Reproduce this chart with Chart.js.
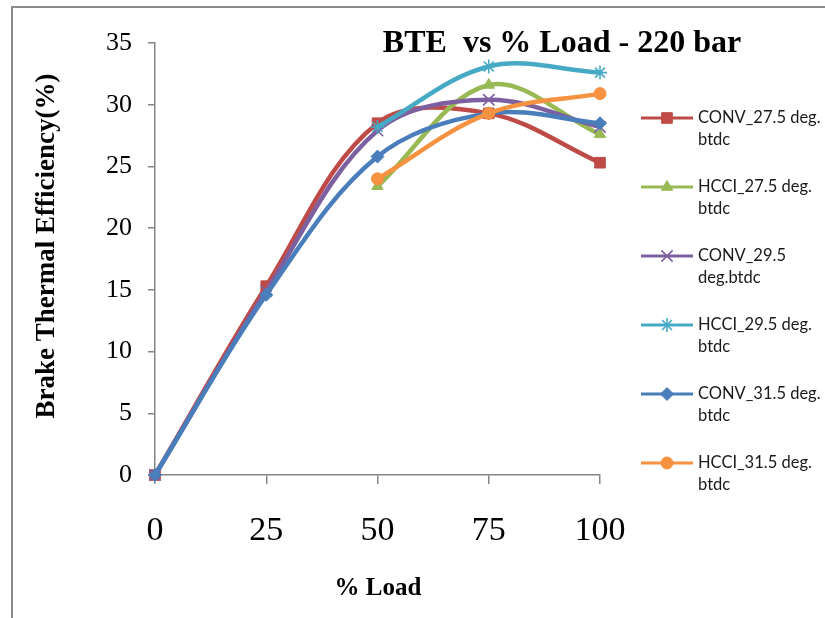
<!DOCTYPE html>
<html>
<head>
<meta charset="utf-8">
<script src="https://cdn.jsdelivr.net/npm/chart.js@4/dist/chart.umd.min.js"></script>
<style>
  html, body { margin: 0; padding: 0; background: #fff; }
  #wrap { width: 825px; height: 618px; position: relative; }
  canvas { display: block; }
</style>
</head>
<body>
<div id="wrap"><canvas id="bte" width="825" height="618"></canvas></div>
<script>
// % load categories on the x axis
const loadLabels = ['0', '25', '50', '75', '100'];

// Brake thermal efficiency (%) per series; HCCI runs start at 50 % load
const conv275 = [0, 15.3, 28.5, 29.3, 25.3];
const hcci275 = [null, null, 23.4, 31.6, 27.6];
const conv295 = [0, 14.9, 27.9, 30.4, 28.2];
const hcci295 = [null, null, 28.2, 33.1, 32.6];
const conv315 = [0, 14.6, 25.8, 29.3, 28.5];
const hcci315 = [null, null, 24.0, 29.3, 30.9];

const seriesNames = [
  'CONV_27.5 deg. btdc', 'HCCI_27.5 deg. btdc', 'CONV_29.5 deg.btdc',
  'HCCI_29.5 deg. btdc', 'CONV_31.5 deg. btdc', 'HCCI_31.5 deg. btdc'
];
// legend text, wrapped onto two lines
const legendLines = [
  ['CONV_27.5 deg.', 'btdc'], ['HCCI_27.5 deg.', 'btdc'], ['CONV_29.5', 'deg.btdc'],
  ['HCCI_29.5 deg.', 'btdc'], ['CONV_31.5 deg.', 'btdc'], ['HCCI_31.5 deg.', 'btdc']
];
const seriesValues = [conv275, hcci275, conv295, hcci295, conv315, hcci315];

const chartTitle = 'BTE  vs % Load - 220 bar';
const yTitle = 'Brake Thermal Efficiency(%)';
const xTitle = '% Load';

// marker look for each series
const styles = [
  { color: '#BE4B48', point: 'rect',     radius: 7.5, bw: 1 },
  { color: '#98B954', point: 'triangle', radius: 6.5, bw: 1 },
  { color: '#7D60A0', point: 'crossRot', radius: 8,   bw: 1.6 },
  { color: '#46AAC5', point: 'star',     radius: 7,   bw: 1.6 },
  { color: '#4A7EBB', point: 'rectRot',  radius: 6.5, bw: 1 },
  { color: '#F69240', point: 'circle',   radius: 6,   bw: 1 }
];

const serif = '"Liberation Serif", "Times New Roman", serif';
const axisGray = '#868686';

const datasets = seriesValues.map((vals, i) => ({
  label: seriesNames[i],
  data: vals,
  borderColor: styles[i].color,
  backgroundColor: styles[i].color,
  borderWidth: 4.5,
  tension: 0.35,
  pointStyle: styles[i].point,
  pointRadius: styles[i].radius,
  pointBorderWidth: styles[i].bw,
  pointBackgroundColor: styles[i].color,
  pointBorderColor: styles[i].color,
  clip: false,
  order: seriesValues.length - i
}));

// frame, titles and the two-line legend
const decor = {
  id: 'decor',
  afterDraw(chart) {
    const c = chart.ctx;
    c.save();
    // outer chart frame
    c.strokeStyle = '#8c8c8c';
    c.lineWidth = 2;
    c.beginPath();
    c.moveTo(12, 618);
    c.lineTo(12, 7);
    c.lineTo(825, 7);
    c.stroke();

    c.fillStyle = '#000';
    // chart title
    c.font = 'bold 32px ' + serif;
    c.textAlign = 'center';
    c.textBaseline = 'alphabetic';
    c.fillText(chartTitle, 562, 52);

    // x axis title
    c.font = 'bold 25px ' + serif;
    c.fillText(xTitle, 378, 595);

    // y axis title
    c.save();
    c.translate(54, 246);
    c.rotate(-Math.PI / 2);
    c.font = 'bold 27px ' + serif;
    c.fillText(yTitle, 0, 0);
    c.restore();

    // legend
    const top = 118, step = 69, lineH = 22;
    chart.data.datasets.forEach((ds, i) => {
      const y = top + i * step;
      const st = styles[i];
      c.strokeStyle = st.color;
      c.lineWidth = 3;
      c.beginPath();
      c.moveTo(641, y);
      c.lineTo(693, y);
      c.stroke();
      c.fillStyle = st.color;
      c.strokeStyle = st.color;
      c.lineWidth = st.bw;
      Chart.helpers.drawPoint(c, { pointStyle: st.point, radius: st.radius, rotation: 0, borderWidth: st.bw }, 667, y);
      c.fillStyle = '#1a1a1a';
      c.font = '16.5px Lato, "Open Sans", sans-serif';
      c.textAlign = 'left';
      c.textBaseline = 'middle';
      c.fillText(legendLines[i][0], 698, y);
      c.fillText(legendLines[i][1], 698, y + lineH);
    });
    c.restore();
  }
};

new Chart(document.getElementById('bte'), {
  type: 'line',
  data: { labels: loadLabels, datasets },
  options: {
    responsive: false,
    animation: false,
    devicePixelRatio: 1,
    layout: { padding: { left: 0, top: 43, right: 225, bottom: 0 } },
    plugins: {
      legend: { display: false },
      title: { display: false },
      tooltip: { enabled: false }
    },
    scales: {
      x: {
        type: 'category',
        offset: false,
        grid: { display: true, drawOnChartArea: false, drawTicks: true, tickLength: 9, color: axisGray, lineWidth: 1.5 },
        border: { display: true, color: axisGray, width: 1.5 },
        ticks: { font: { family: serif, size: 34 }, color: '#000', padding: 27, maxRotation: 0, autoSkip: false },
        afterFit(scale) { scale.height = 143; }
      },
      y: {
        min: 0,
        max: 35,
        grid: { display: true, drawOnChartArea: false, drawTicks: true, tickLength: 7, color: axisGray, lineWidth: 1.5 },
        border: { display: true, color: axisGray, width: 1.5 },
        ticks: { stepSize: 5, font: { family: serif, size: 26 }, color: '#000', padding: 16 },
        afterFit(scale) { scale.width = 155; }
      }
    }
  },
  plugins: [decor]
});
</script>
</body>
</html>
